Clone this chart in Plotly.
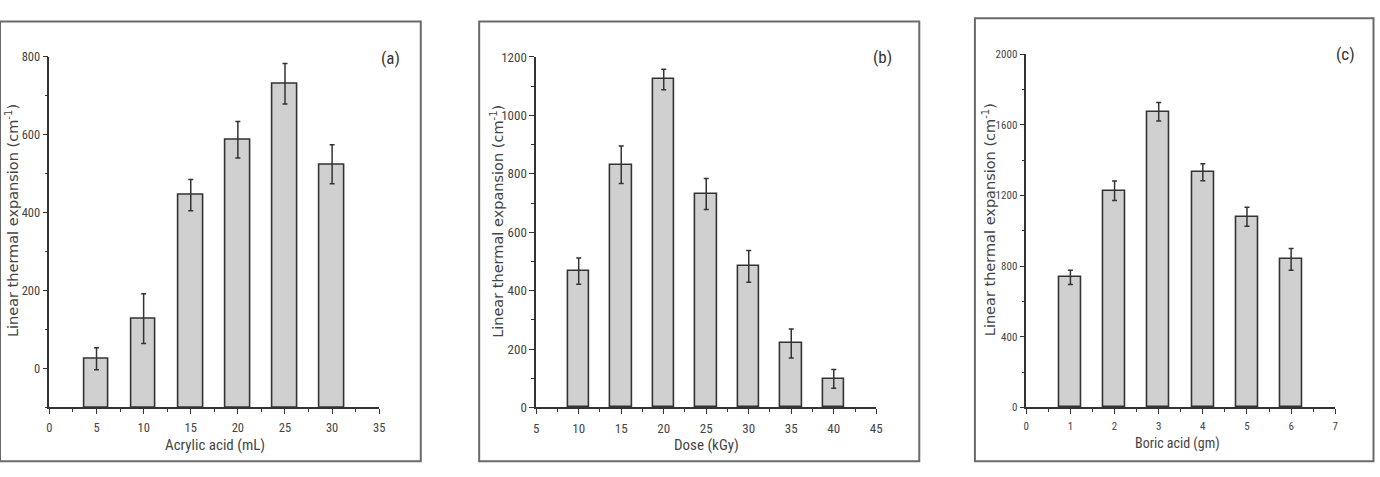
import plotly.graph_objects as go

W, H = 1380, 477

# ---------------- data ----------------
acrylic_x = [5, 10, 15, 20, 25, 30]
acrylic_y = [25, 128, 445, 587, 731, 524]
acrylic_err = [28, 64, 40, 47, 52, 50]

dose_x = [10, 15, 20, 25, 30, 35, 40]
dose_y = [467, 831, 1123, 731, 483, 219, 98]
dose_err = [45, 64, 35, 53, 54, 50, 32]

boric_x = [1, 2, 3, 4, 5, 6]
boric_y = [736, 1227, 1674, 1331, 1079, 838]
boric_err = [40, 55, 52, 48, 54, 62]

panel_labels = ["(a)", "(b)", "(c)"]
x_titles = ["Acrylic acid (mL)", "Dose (kGy)", "Boric acid (gm)"]
y_title = "Linear thermal expansion (cm<sup>-1</sup>)"

# ---------------- style / layout ----------------
NARROW = "Liberation Sans Narrow, Arial Narrow, Roboto Condensed, sans-serif"
WIDE = "DejaVu Sans, Liberation Sans, Arial, sans-serif"
DARK = "#333333"
TXT = "#444444"
BAR_FILL = "#d0d0d0"

def px_x(p):
    return p / W

def px_y(p):
    return 1 - p / H

panels = [
    dict(x=acrylic_x, y=acrylic_y, e=acrylic_err, bw=2.6,
         xr=[0, 35], xd=5, xm=2.5, yr=[-100, 800], yd=200, ym=100,
         dom_x=[46.7, 378.7], dom_y=[50.5, 413.3],
         frame=[-3, 14, 420.5, 469], tf=12.5, xf=15, ytf=14.5,
         ytitle=(8.5, 220), xtitle=(213, 452), lab=(390.5, 51.5)),
    dict(x=dose_x, y=dose_y, e=dose_err, bw=2.55,
         xr=[5, 45], xd=5, xm=2.5, yr=[0, 1200], yd=200, ym=100,
         dom_x=[536.7, 879], dom_y=[50.7, 413.3],
         frame=[479.3, 14, 922.3, 469], tf=13, xf=15, ytf=14.5,
         ytitle=(496.5, 221), xtitle=(707.7, 452), lab=(885, 50.7)),
    dict(x=boric_x, y=boric_y, e=boric_err, bw=0.5,
         xr=[0, 7], xd=1, xm=0.5, yr=[0, 2000], yd=400, ym=200,
         dom_x=[1030, 1341], dom_y=[47.7, 413.3],
         frame=[978.3, 10.7, 1379.5, 469], tf=11, xf=14, ytf=14.5,
         ytitle=(992, 219), xtitle=(1182.3, 451), lab=(1351.5, 47.7)),
]

fig = go.Figure()
shapes = []
annotations = []

for i, p in enumerate(panels):
    n = "" if i == 0 else str(i + 1)
    xa, ya = "x" + n, "y" + n
    base = p["yr"][0]
    fig.add_trace(go.Bar(
        x=p["x"], y=[v - base for v in p["y"]], base=base,
        width=p["bw"], marker=dict(color=BAR_FILL, line=dict(color=DARK, width=1.6)),
        xaxis=xa, yaxis=ya, showlegend=False, hoverinfo="skip"))
    fig.add_trace(go.Scatter(
        x=p["x"], y=p["y"], mode="markers", marker=dict(size=1, opacity=0),
        error_y=dict(type="data", array=p["e"], visible=True, color=DARK,
                     thickness=1.5, width=2.5),
        xaxis=xa, yaxis=ya, showlegend=False, hoverinfo="skip"))

    axis_common = dict(showgrid=False, zeroline=False, showline=True,
                       linecolor=DARK, linewidth=1.5, ticks="outside",
                       tickcolor=DARK, tickwidth=1.3, ticklen=5,
                       tickfont=dict(family=NARROW, size=p["tf"], color=TXT))
    fig.layout["xaxis" + n] = dict(
        axis_common, domain=[px_x(p["dom_x"][0]), px_x(p["dom_x"][1])],
        range=p["xr"], tick0=0, dtick=p["xd"], anchor=ya, ticklabelstandoff=3,
        minor=dict(dtick=p["xm"], ticks="outside", ticklen=3, tickcolor=DARK, tickwidth=1.2))
    fig.layout["yaxis" + n] = dict(
        axis_common, domain=[px_y(p["dom_y"][1]), px_y(p["dom_y"][0])],
        range=p["yr"], tick0=0, dtick=p["yd"], anchor=xa,
        minor=dict(dtick=p["ym"], ticks="outside", ticklen=3, tickcolor=DARK, tickwidth=1.2))

    fx0, fy0, fx1, fy1 = p["frame"]
    shapes.append(dict(type="rect", xref="paper", yref="paper",
                       x0=px_x(fx0), x1=px_x(fx1), y0=px_y(fy1), y1=px_y(fy0),
                       line=dict(color="#6a6a6a", width=2), fillcolor="rgba(0,0,0,0)"))

    annotations.append(dict(text=y_title, textangle=-90, xref="paper", yref="paper",
                            x=px_x(p["ytitle"][0]), y=px_y(p["ytitle"][1]),
                            xanchor="center", yanchor="middle", showarrow=False,
                            font=dict(family=WIDE, size=p["ytf"], color=TXT)))
    annotations.append(dict(text=x_titles[i], xref="paper", yref="paper",
                            x=px_x(p["xtitle"][0]), y=px_y(p["xtitle"][1]),
                            xanchor="center", yanchor="middle", showarrow=False,
                            font=dict(family=NARROW, size=p["xf"], color=TXT)))
    annotations.append(dict(text=panel_labels[i], xref="paper", yref="paper",
                            x=px_x(p["lab"][0]), y=px_y(p["lab"][1]),
                            xanchor="center", yanchor="middle", showarrow=False,
                            font=dict(family=NARROW, size=17, color=DARK)))

fig.update_layout(width=W, height=H, margin=dict(l=0, r=0, t=0, b=0),
                  paper_bgcolor="white", plot_bgcolor="white",
                  shapes=shapes, annotations=annotations, bargap=0)

fig.write_html("out.html")
